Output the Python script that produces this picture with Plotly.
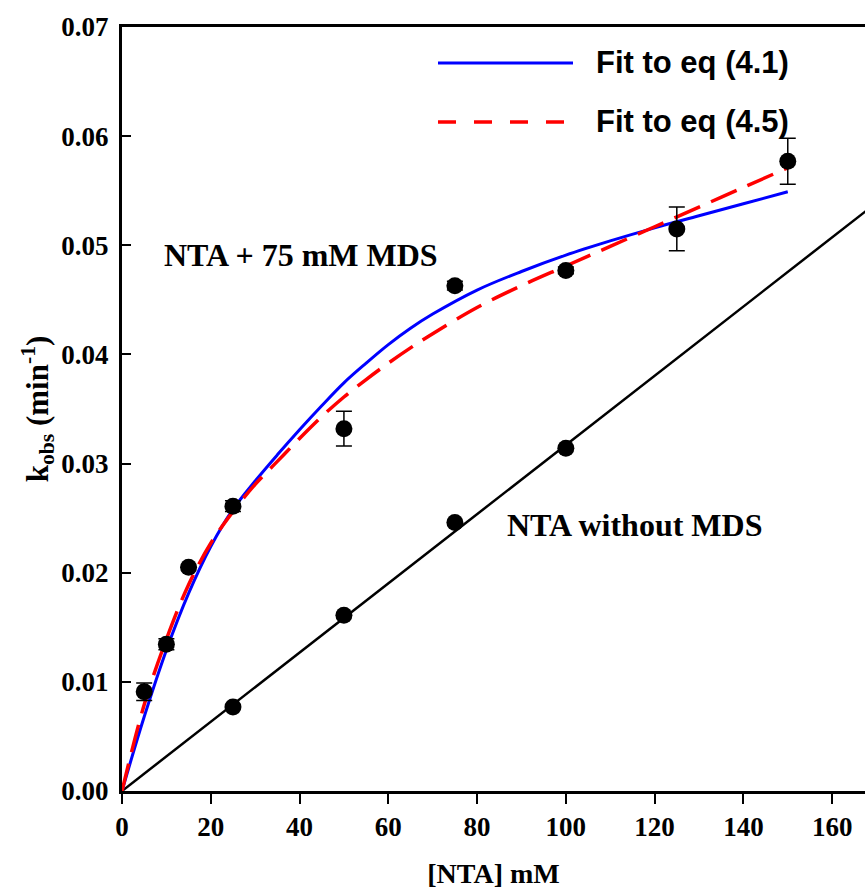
import plotly.graph_objects as go

# NTA with 75 mM MDS: measured rate constants and errors
mds_x = [5, 10, 15, 25, 50, 75, 100, 125, 150]
mds_y = [0.0091, 0.01345, 0.0205, 0.0261, 0.0332, 0.0463, 0.0477, 0.0515, 0.0577]
mds_err = [0.0008, 0.0005, 0.0, 0.0005, 0.0016, 0.0004, 0.0003, 0.0020, 0.0021]

# NTA without MDS
plain_x = [25, 50, 75, 100]
plain_y = [0.0077, 0.0161, 0.0246, 0.0314]

# Linear fit of the MDS-free data
plain_fit_x = [0, 170]
plain_fit_y = [0, 0.0539]

# Fit curves
fit_x = [0, 5, 10, 15, 20, 25, 30, 35, 40, 45, 50, 55, 60, 65, 70, 80, 90,
         100, 110, 120, 130, 140, 150]
fit41_y = [0, 0.0068, 0.0129, 0.0181, 0.0224, 0.0258, 0.0284, 0.0308, 0.0331,
           0.0353, 0.0374, 0.0392, 0.0409, 0.0424, 0.0437, 0.0459, 0.0476,
           0.0491, 0.0504, 0.0516, 0.0527, 0.0538, 0.0549]
fit45_y = [0, 0.0079, 0.0139, 0.0189, 0.0227, 0.0256, 0.0281, 0.0302, 0.0323,
           0.0343, 0.0361, 0.0377, 0.0392, 0.0406, 0.0419, 0.0443, 0.0463,
           0.0481, 0.0499, 0.0517, 0.0535, 0.0553, 0.0571]

x_ticks = [0, 20, 40, 60, 80, 100, 120, 140, 160]
y_ticks = [0.00, 0.01, 0.02, 0.03, 0.04, 0.05, 0.06, 0.07]

legend_labels = ["Fit to eq (4.1)", "Fit to eq (4.5)"]

SERIF = "Liberation Serif, Times New Roman, serif"
SANS = "Liberation Sans, Arial, sans-serif"

fig = go.Figure()

fig.add_trace(go.Scatter(x=plain_fit_x, y=plain_fit_y, mode="lines",
                         line=dict(color="black", width=2.5), showlegend=False))
fig.add_trace(go.Scatter(x=fit_x, y=fit41_y, mode="lines",
                         line=dict(color="#0000ff", width=3, shape="spline"),
                         showlegend=False))
fig.add_trace(go.Scatter(x=fit_x, y=fit45_y, mode="lines",
                         line=dict(color="#ff0000", width=3.5, shape="spline",
                                   dash="28px,12px"),
                         showlegend=False))
fig.add_trace(go.Scatter(x=mds_x, y=mds_y, mode="markers",
                         marker=dict(color="black", size=17),
                         error_y=dict(type="data", array=mds_err, visible=True,
                                      color="black", thickness=1.5, width=8),
                         showlegend=False))
fig.add_trace(go.Scatter(x=plain_x, y=plain_y, mode="markers",
                         marker=dict(color="black", size=17), showlegend=False))

# Legend keys drawn as paper-space lines with text labels
fig.add_shape(type="line", xref="paper", yref="paper", x0=0.4253, x1=0.607,
              y0=0.9529, y1=0.9529, line=dict(color="#0000ff", width=3))
fig.add_shape(type="line", xref="paper", yref="paper", x0=0.4253, x1=0.607,
              y0=0.8757, y1=0.8757,
              line=dict(color="#ff0000", width=3.5, dash="18px,18px"))
for label, yp in zip(legend_labels, [0.9529, 0.8757]):
    fig.add_annotation(text=f"<b>{label}</b>", xref="paper", yref="paper",
                       x=0.6353, y=yp, xanchor="left", yanchor="middle",
                       showarrow=False, font=dict(family=SANS, size=31, color="black"))

fig.add_annotation(text="<b>NTA + 75 mM MDS</b>", x=9.1, y=0.0491,
                   xanchor="left", yanchor="middle", showarrow=False,
                   font=dict(family=SERIF, size=32, color="black"))
fig.add_annotation(text="<b>NTA without MDS</b>", x=86.3, y=0.0244,
                   xanchor="left", yanchor="middle", showarrow=False,
                   font=dict(family=SERIF, size=32, color="black"))

fig.update_layout(
    width=865, height=890,
    margin=dict(l=122, r=0, t=27, b=99),
    plot_bgcolor="white", paper_bgcolor="white",
    font=dict(family=SERIF, color="black"),
    xaxis=dict(
        range=[0, 167.4], tickvals=x_ticks, ticktext=[f"<b>{v}</b>" for v in x_ticks],
        ticks="outside", ticklen=10, tickwidth=1.5, tickcolor="black",
        showline=True, linewidth=3, linecolor="black", mirror=True,
        showgrid=False, zeroline=False,
        tickfont=dict(family=SERIF, size=27, color="black"),
        title=dict(text="<b>[NTA] mM</b>", font=dict(family=SERIF, size=28),
                   standoff=22),
    ),
    yaxis=dict(
        range=[0, 0.07], tickvals=y_ticks,
        ticktext=[f"<b>{v:.2f}</b>" for v in y_ticks],
        ticks="inside", ticklen=9, tickwidth=1.5, tickcolor="black",
        showline=True, linewidth=3, linecolor="black",
        showgrid=False, zeroline=False, ticklabelstandoff=5,
        tickfont=dict(family=SERIF, size=27, color="black"),
        title=dict(text="<b>k<sub>obs</sub> (min<sup>-1</sup>)</b>",
                   font=dict(family=SERIF, size=31), standoff=4),
    ),
)

fig.write_html("out.html")
